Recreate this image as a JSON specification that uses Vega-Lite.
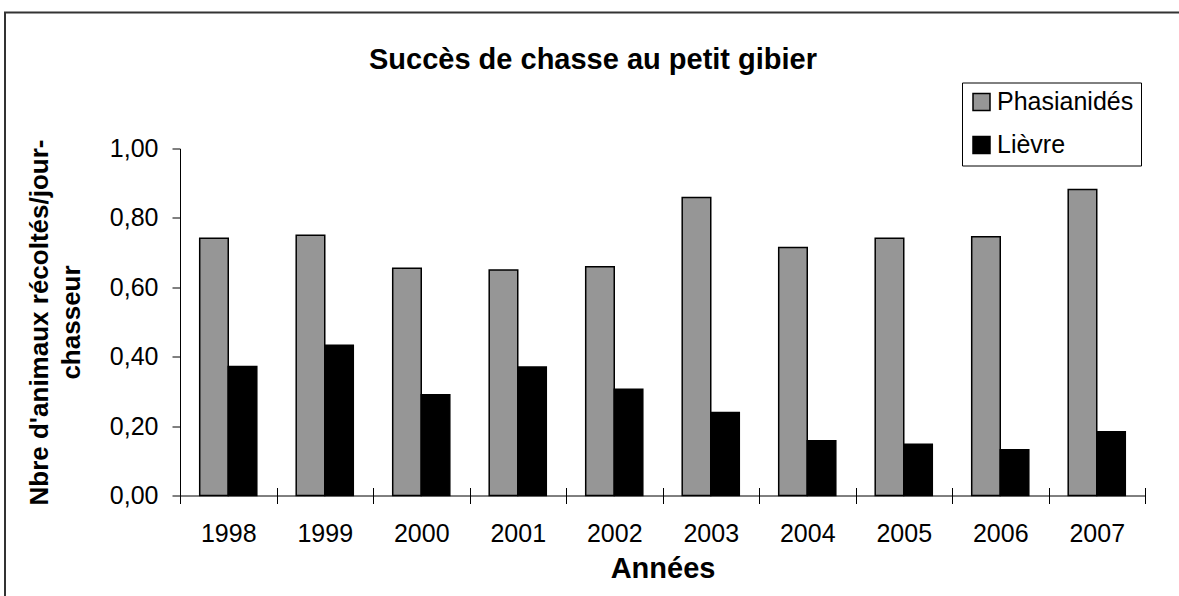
{
  "$schema": "https://vega.github.io/schema/vega-lite/v6.json",
  "width": 1176,
  "height": 590,
  "autosize": {"type": "none"},
  "padding": {"left": 5, "top": 12.5, "right": 0, "bottom": 0},
  "background": "white",
  "config": {
    "view": {"stroke": "#333333", "strokeWidth": 2},
    "font": "Liberation Sans"
  },
  "title": {
    "text": "Succès de chasse au petit gibier",
    "fontSize": 29,
    "fontWeight": "bold",
    "font": "Liberation Sans",
    "color": "#000000",
    "anchor": "middle",
    "frame": "group",
    "baseline": "alphabetic",
    "offset": -85
  },
  "data": {
    "values": [
      {"year": "1998", "species": "Phasianidés", "value": 0.741},
      {"year": "1999", "species": "Phasianidés", "value": 0.750},
      {"year": "2000", "species": "Phasianidés", "value": 0.655},
      {"year": "2001", "species": "Phasianidés", "value": 0.650},
      {"year": "2002", "species": "Phasianidés", "value": 0.659},
      {"year": "2003", "species": "Phasianidés", "value": 0.859},
      {"year": "2004", "species": "Phasianidés", "value": 0.715},
      {"year": "2005", "species": "Phasianidés", "value": 0.741},
      {"year": "2006", "species": "Phasianidés", "value": 0.746},
      {"year": "2007", "species": "Phasianidés", "value": 0.882},
      {"year": "1998", "species": "Lièvre", "value": 0.372},
      {"year": "1999", "species": "Lièvre", "value": 0.433},
      {"year": "2000", "species": "Lièvre", "value": 0.290},
      {"year": "2001", "species": "Lièvre", "value": 0.370},
      {"year": "2002", "species": "Lièvre", "value": 0.306},
      {"year": "2003", "species": "Lièvre", "value": 0.239},
      {"year": "2004", "species": "Lièvre", "value": 0.158},
      {"year": "2005", "species": "Lièvre", "value": 0.148},
      {"year": "2006", "species": "Lièvre", "value": 0.132},
      {"year": "2007", "species": "Lièvre", "value": 0.184}
    ]
  },
  "layer": [
    {
      "mark": {"type": "bar", "stroke": "#000000", "strokeWidth": 1.5},
      "encoding": {
        "x": {
          "field": "year",
          "type": "nominal",
          "title": "Années",
          "scale": {"range": [175, 1140], "paddingInner": 0, "paddingOuter": 0},
          "axis": {
            "orient": "bottom",
            "offset": -107,
            "domainColor": "#000000",
            "domainWidth": 1,
            "tickColor": "#000000",
            "tickSize": 8,
            "tickBand": "extent",
            "labelAngle": 0,
            "labelPadding": 18,
            "labelFontSize": 25,
            "labelFont": "Liberation Sans",
            "labelColor": "#000000",
            "titleFontSize": 29,
            "titleFont": "Liberation Sans",
            "titleFontWeight": "bold",
            "titleColor": "#000000",
            "titlePadding": 8
          }
        },
        "xOffset": {
          "field": "species",
          "sort": ["Phasianidés", "Lièvre"],
          "scale": {"paddingInner": 0, "paddingOuter": 0.69}
        },
        "y": {
          "field": "value",
          "type": "quantitative",
          "title": ["Nbre d'animaux récoltés/jour-", "chasseur"],
          "scale": {"domain": [0, 1], "range": [483, 136], "nice": false, "zero": true},
          "axis": {
            "orient": "left",
            "offset": -175,
            "values": [0, 0.2, 0.4, 0.6, 0.8, 1],
            "labelExpr": "replace(format(datum.value, '.2f'), '.', ',')",
            "grid": false,
            "domainColor": "#000000",
            "tickColor": "#000000",
            "tickSize": 8,
            "labelPadding": 14,
            "labelFontSize": 25,
            "labelFont": "Liberation Sans",
            "labelColor": "#000000",
            "titleFontSize": 26,
            "titleFont": "Liberation Sans",
            "titleFontWeight": "bold",
            "titleColor": "#000000",
            "titleLineHeight": 32,
            "titlePadding": 25
          }
        },
        "color": {
          "field": "species",
          "type": "nominal",
          "sort": ["Phasianidés", "Lièvre"],
          "scale": {"domain": ["Phasianidés", "Lièvre"], "range": ["#969696", "#000000"]},
          "legend": {
            "orient": "none",
            "legendX": 957,
            "legendY": 70,
            "title": null,
            "strokeColor": "#000000",
            "padding": 7,
            "symbolType": "square",
            "symbolSize": 289,
            "symbolStrokeColor": "#000000",
            "symbolStrokeWidth": 1.5,
            "labelFontSize": 25,
            "labelFont": "Liberation Sans",
            "labelColor": "#000000",
            "labelOffset": 3,
            "rowPadding": 17
          }
        }
      }
    },
    {
      "mark": {"type": "point", "opacity": 0},
      "encoding": {
        "x": {
          "field": "year",
          "type": "nominal",
          "axis": {
            "orient": "top",
            "offset": -483,
            "labels": false,
            "domain": false,
            "tickColor": "#000000",
            "tickSize": 8,
            "tickBand": "extent",
            "title": null
          }
        }
      }
    }
  ],
  "resolve": {"axis": {"x": "independent"}}
}
